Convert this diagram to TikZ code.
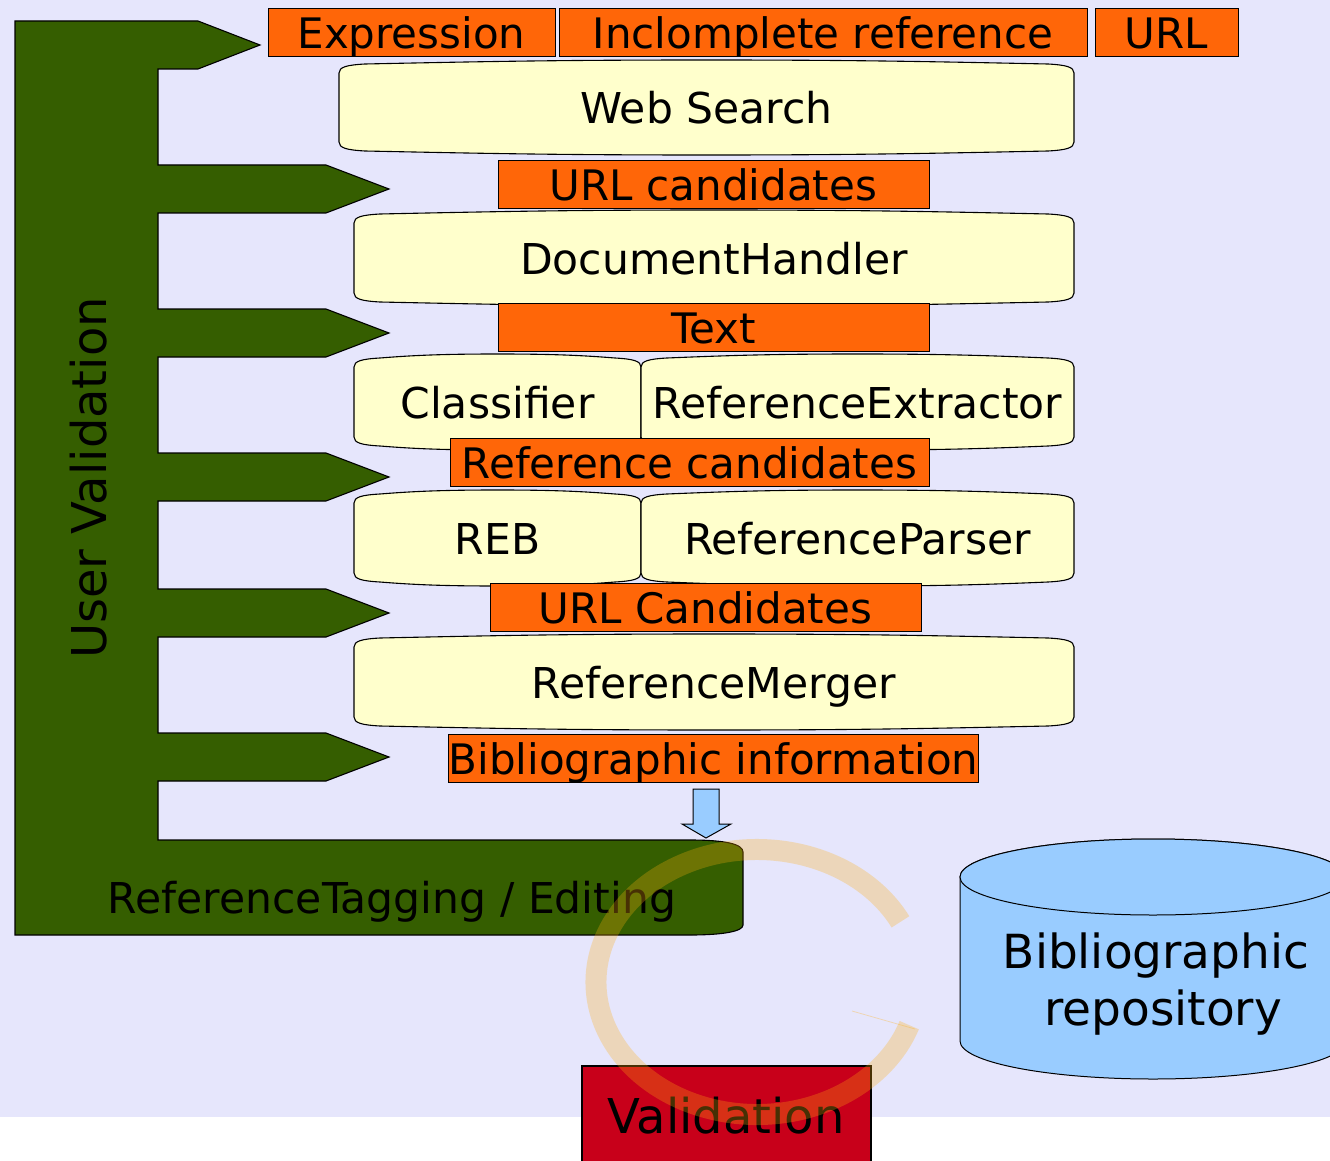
\documentclass[tikz,border=0pt]{standalone}
\usepackage{fontspec}
\setmainfont{DejaVu Sans}
\definecolor{bglav}{RGB}{230,230,252}
\definecolor{vgreen}{RGB}{53,94,0}
\definecolor{dorange}{RGB}{255,102,8}
\definecolor{pyellow}{RGB}{255,255,204}
\definecolor{skyblue}{RGB}{153,204,255}
\definecolor{vred}{RGB}{200,0,26}
\definecolor{ringtan}{RGB}{255,175,15}

% processing block: name, x1, y1, x2, y2, label (top and bottom edges bulge outwards)
\newcommand\procblock[6]{%
  \pgfmathsetmacro\pxm{(#2+#4)/2}%
  \pgfmathsetmacro\pw{#4-#2}%
  \pgfmathsetmacro\pym{(#3+#5)/2}%
  \path[procfill] (#2,#3+13) .. controls (#2,#3+7) and (#2+8,#3+5) .. (#2+26,#3+4)
    .. controls (#2+0.2*\pw,#3+1.5) and (\pxm-0.2*\pw,#3) .. (\pxm,#3)
    .. controls (\pxm+0.2*\pw,#3) and (#4-0.2*\pw,#3+1.5) .. (#4-26,#3+4)
    .. controls (#4-8,#3+5) and (#4,#3+7) .. (#4,#3+13)
    -- (#4,#5-13)
    .. controls (#4,#5-7) and (#4-8,#5-5) .. (#4-26,#5-4)
    .. controls (#4-0.2*\pw,#5-1.5) and (\pxm+0.2*\pw,#5) .. (\pxm,#5)
    .. controls (\pxm-0.2*\pw,#5) and (#2+0.2*\pw,#5-1.5) .. (#2+26,#5-4)
    .. controls (#2+8,#5-5) and (#2,#5-7) .. (#2,#5-13) -- cycle;
  \node[proctext] (#1) at (\pxm,\pym) {#6};%
}

\begin{document}
\begin{tikzpicture}[x=1pt,y=-1pt,
  outline/.style={draw=black, line width=1.1pt, line join=miter},
  procfill/.style={outline, fill=pyellow},
  proctext/.style={inner sep=0pt, text height=40pt, text depth=8pt,
    font=\fontsize{42.5pt}{50pt}\selectfont},
  databox/.style={draw=black, line width=1pt, fill=dorange, inner sep=0pt,
    minimum height=47pt, text height=40pt, text depth=8pt,
    font=\fontsize{42pt}{50pt}\selectfont},
  ringstroke/.style={draw=ringtan, draw opacity=0.28, line width=21pt, line cap=butt}]

\useasboundingbox (0,0) rectangle (1330,1161);
\clip (0,0) rectangle (1330,1161);

% backdrop
\fill[bglav] (0,0) rectangle (1330,1117);

% user validation frame with its arrows
\path[outline, fill=vgreen]
  (15,21) -- (198,21) -- (260,45) -- (198,69) -- (158,69)
  -- (158,165) -- (326,165) -- (389,189) -- (326,213) -- (158,213)
  -- (158,309) -- (326,309) -- (389,333) -- (326,357) -- (158,357)
  -- (158,453) -- (326,453) -- (389,477) -- (326,501) -- (158,501)
  -- (158,589) -- (326,589) -- (389,613) -- (326,637) -- (158,637)
  -- (158,733) -- (326,733) -- (389,757) -- (326,781) -- (158,781)
  -- (158,840) -- (690,840) .. controls (725,840) and (743,844) .. (743,852)
  -- (743,925) .. controls (743,931) and (725,935) .. (690,935)
  -- (15,935) -- cycle;

% processing blocks
\procblock{websearch}{339}{60}{1074}{155}{Web Search}
\procblock{dochandler}{354}{210}{1074}{306}{DocumentHandler}
\procblock{classifier}{354}{354}{641}{450}{Classifier}
\procblock{refextractor}{641}{354}{1074}{450}{ReferenceExtractor}
\procblock{reb}{354}{490}{641}{586}{REB}
\procblock{refparser}{641}{490}{1074}{586}{ReferenceParser}
\procblock{refmerger}{354}{634}{1074}{730}{ReferenceMerger}

% data passed between the blocks
\node[databox, minimum width=287pt, minimum height=48pt] (expr) at (411.5,33) {Expression};
\node[databox, minimum width=528pt, minimum height=48pt] (incref) at (823,33) {Inclomplete reference};
\node[databox, minimum width=143pt, minimum height=48pt] (url) at (1166.5,33) {URL};
\node[databox, minimum width=431pt] (urlcand) at (713.5,184.5) {URL candidates};
\node[databox, minimum width=431pt] (text) at (713.5,327.5) {Text};
\node[databox, minimum width=479pt] (refcand) at (689.5,462.5) {Reference candidates};
\node[databox, minimum width=431pt] (urlcand2) at (705.5,607.5) {URL Candidates};
\node[databox, minimum width=527pt] (bibinfo) at (713.5,758.5) {Bibliographic information};

% block arrow down to the tagging bar
\path[draw=black, line width=1pt, fill=skyblue]
  (693,789) -- (719,789) -- (719,824) -- (731,824) -- (706,838)
  -- (682,824) -- (693,824) -- cycle;

% repository cylinder
\path[draw=black, line width=1pt, fill=skyblue]
  (960,877) -- (960,1041) arc[start angle=180, end angle=0, x radius=193, y radius=38]
  -- (1346,877) arc[start angle=0, end angle=-180, x radius=193, y radius=38] -- cycle;
\draw[line width=1pt, fill=skyblue] (1153,877) ellipse[x radius=193, y radius=38];
\node[align=center, inner sep=0pt, font=\fontsize{47pt}{57pt}\selectfont]
  (repo) at (1156,984) {Bibliographic\\\hspace*{14pt}repository};

% validation box
\path[draw=black, line width=1.2pt, fill=vred] (582,1066) rectangle (871,1180);
\node[anchor=base, inner sep=0pt, font=\fontsize{48pt}{57pt}\selectfont]
  (validation) at (726,1133) {Validation};

% labels on the frame
\node[anchor=base, rotate=90, inner sep=0pt, font=\fontsize{48pt}{57pt}\selectfont]
  (uservalid) at (106,478) {User Validation};
\node[anchor=base, inner sep=0pt, font=\fontsize{42.5pt}{50pt}\selectfont]
  (tagging) at (392,913) {ReferenceTagging / Editing};

% translucent cycle ring
\draw[ringstroke] (757,982) ++(-27:161 and 132.5)
  arc[start angle=-27, end angle=-341, x radius=161, y radius=132.5];
\draw[draw=ringtan, draw opacity=0.3, line width=0.8pt] (852,1011) -- (915,1029);

\end{tikzpicture}
\end{document}
